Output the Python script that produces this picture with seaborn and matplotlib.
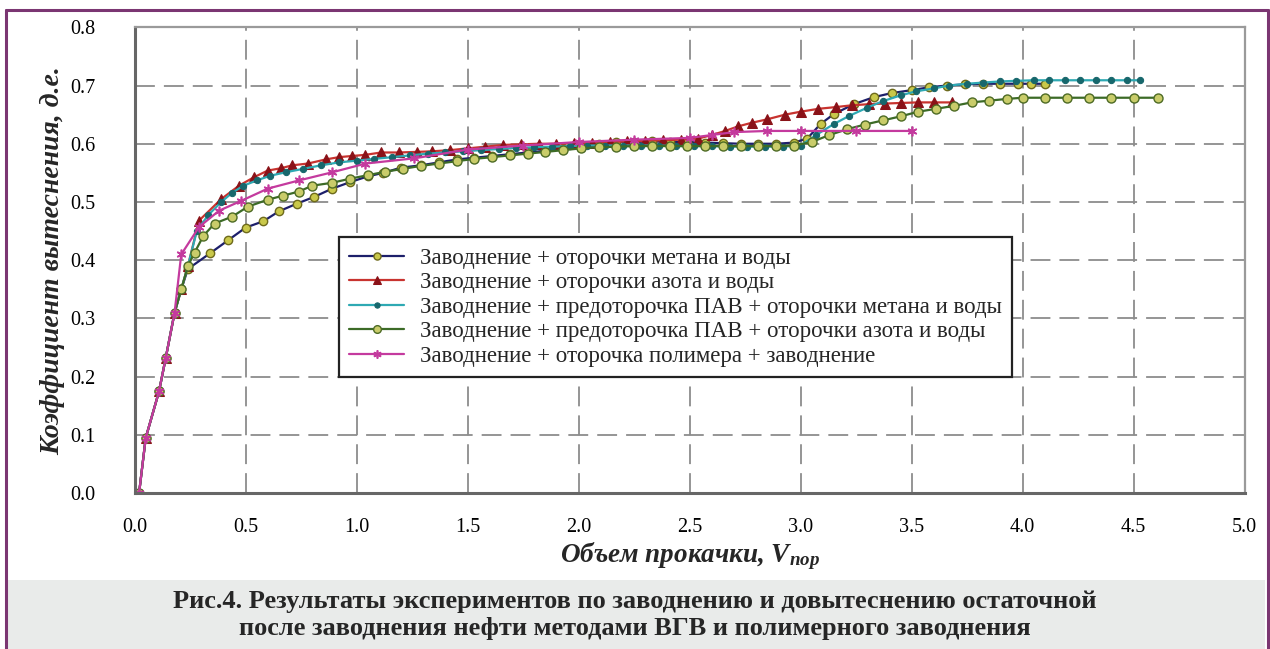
"""Коэффициент вытеснения в зависимости от объема прокачки (рис. 4)."""

import matplotlib.pyplot as plt
from matplotlib.lines import Line2D
from matplotlib.patches import Rectangle
import seaborn as sns

# Заводнение + оторочки метана и воды
METHANE_X = [0.02, 0.05, 0.11, 0.14, 0.18, 0.21, 0.24, 0.34, 0.42, 0.50, 0.58, 0.65, 0.73, 0.81,
             0.89, 0.97, 1.05, 1.12, 1.20, 1.29, 1.37, 1.45, 1.53, 1.61, 1.69, 1.77, 1.85, 1.93,
             2.01, 2.09, 2.17, 2.25, 2.33, 2.41, 2.49, 2.57, 2.65, 2.73, 2.81, 2.89, 2.97, 3.03,
             3.09, 3.15, 3.24, 3.33, 3.41, 3.50, 3.58, 3.66, 3.74, 3.82, 3.90, 3.98, 4.04, 4.10]
METHANE_Y = [0.0, 0.095, 0.175, 0.232, 0.31, 0.35, 0.385, 0.412, 0.434, 0.456, 0.467, 0.484, 0.497,
             0.509, 0.523, 0.534, 0.544, 0.55, 0.559, 0.563, 0.568, 0.573, 0.576, 0.579, 0.582,
             0.585, 0.588, 0.592, 0.596, 0.60, 0.603, 0.603, 0.604, 0.603, 0.603, 0.602, 0.601,
             0.60, 0.60, 0.60, 0.602, 0.609, 0.634, 0.651, 0.668, 0.68, 0.687, 0.692, 0.697, 0.70,
             0.702, 0.703, 0.703, 0.703, 0.703, 0.703]

# Заводнение + оторочки азота и воды
NITROGEN_X = [0.02, 0.05, 0.11, 0.14, 0.18, 0.21, 0.24, 0.29, 0.39, 0.47, 0.54, 0.60, 0.66, 0.71,
              0.78, 0.86, 0.92, 0.98, 1.04, 1.11, 1.19, 1.27, 1.34, 1.42, 1.50, 1.58, 1.66, 1.74,
              1.82, 1.90, 1.98, 2.06, 2.14, 2.22, 2.30, 2.38, 2.46, 2.54, 2.60, 2.66, 2.72, 2.78,
              2.85, 2.93, 3.00, 3.08, 3.16, 3.23, 3.31, 3.38, 3.45, 3.53, 3.60, 3.68]
NITROGEN_Y = [0.0, 0.095, 0.175, 0.232, 0.31, 0.35, 0.39, 0.468, 0.505, 0.528, 0.543, 0.554, 0.558,
              0.563, 0.566, 0.573, 0.577, 0.579, 0.581, 0.585, 0.585, 0.586, 0.587, 0.589, 0.592,
              0.595, 0.598, 0.599, 0.60, 0.60, 0.601, 0.602, 0.603, 0.604, 0.605, 0.606, 0.607,
              0.609, 0.615, 0.622, 0.630, 0.636, 0.642, 0.650, 0.655, 0.660, 0.663, 0.666, 0.668,
              0.669, 0.670, 0.671, 0.671, 0.671]

# Заводнение + предоторочка ПАВ + оторочки метана и воды
SURF_METHANE_X = [0.02, 0.05, 0.11, 0.14, 0.18, 0.21, 0.24, 0.28, 0.33, 0.39, 0.44, 0.49, 0.55,
                  0.61, 0.68, 0.76, 0.84, 0.92, 1.00, 1.08, 1.16, 1.24, 1.32, 1.40, 1.48, 1.56,
                  1.64, 1.72, 1.80, 1.88, 1.96, 2.04, 2.12, 2.20, 2.28, 2.36, 2.44, 2.52, 2.60,
                  2.68, 2.76, 2.84, 2.92, 3.00, 3.07, 3.15, 3.22, 3.30, 3.37, 3.45, 3.52, 3.60,
                  3.67, 3.75, 3.82, 3.90, 3.97, 4.05, 4.12, 4.19, 4.26, 4.33, 4.40, 4.47, 4.53]
SURF_METHANE_Y = [0.0, 0.095, 0.175, 0.232, 0.31, 0.35, 0.39, 0.45, 0.477, 0.50, 0.516, 0.528,
                  0.537, 0.545, 0.551, 0.557, 0.563, 0.568, 0.571, 0.574, 0.577, 0.58, 0.583,
                  0.585, 0.587, 0.589, 0.591, 0.593, 0.594, 0.595, 0.596, 0.597, 0.597, 0.597,
                  0.597, 0.597, 0.596, 0.596, 0.596, 0.595, 0.595, 0.595, 0.595, 0.597, 0.615,
                  0.634, 0.648, 0.662, 0.673, 0.683, 0.69, 0.695, 0.70, 0.703, 0.705, 0.707,
                  0.708, 0.709, 0.709, 0.709, 0.709, 0.709, 0.709, 0.709, 0.709]

# Заводнение + предоторочка ПАВ + оторочки азота и воды
SURF_NITROGEN_X = [0.02, 0.05, 0.11, 0.14, 0.18, 0.21, 0.24, 0.27, 0.31, 0.36, 0.44, 0.51, 0.60,
                   0.67, 0.74, 0.80, 0.89, 0.97, 1.05, 1.13, 1.21, 1.29, 1.37, 1.45, 1.53, 1.61,
                   1.69, 1.77, 1.85, 1.93, 2.01, 2.09, 2.17, 2.25, 2.33, 2.41, 2.49, 2.57, 2.65,
                   2.73, 2.81, 2.89, 2.97, 3.05, 3.13, 3.21, 3.29, 3.37, 3.45, 3.53, 3.61, 3.69,
                   3.77, 3.85, 3.93, 4.00, 4.10, 4.20, 4.30, 4.40, 4.50, 4.61]
SURF_NITROGEN_Y = [0.0, 0.095, 0.175, 0.232, 0.31, 0.35, 0.39, 0.413, 0.442, 0.463, 0.475, 0.492,
                   0.504, 0.511, 0.518, 0.528, 0.533, 0.540, 0.546, 0.552, 0.557, 0.562, 0.566,
                   0.57, 0.574, 0.577, 0.58, 0.583, 0.586, 0.589, 0.592, 0.594, 0.595, 0.596,
                   0.596, 0.596, 0.596, 0.596, 0.596, 0.596, 0.596, 0.596, 0.597, 0.603, 0.615,
                   0.625, 0.633, 0.64, 0.647, 0.655, 0.66, 0.665, 0.671, 0.674, 0.677, 0.679,
                   0.679, 0.679, 0.679, 0.679, 0.679, 0.679]

# Заводнение + оторочка полимера + заводнение
POLYMER_X = [0.02, 0.05, 0.11, 0.14, 0.18, 0.21, 0.29, 0.38, 0.48, 0.60, 0.74, 0.89, 1.04, 1.26,
             1.50, 1.75, 2.00, 2.25, 2.50, 2.60, 2.70, 2.85, 3.00, 3.25, 3.50]
POLYMER_Y = [0.0, 0.095, 0.175, 0.232, 0.31, 0.41, 0.457, 0.485, 0.502, 0.523, 0.537, 0.551,
             0.566, 0.575, 0.59, 0.597, 0.603, 0.607, 0.61, 0.615, 0.62, 0.622, 0.622, 0.622,
             0.622]

LABELS = [
    "Заводнение + оторочки метана и воды",
    "Заводнение + оторочки азота и воды",
    "Заводнение + предоторочка ПАВ + оторочки метана и воды",
    "Заводнение + предоторочка ПАВ + оторочки азота и воды",
    "Заводнение + оторочка полимера + заводнение",
]
CAPTION = ("Рис.4. Результаты экспериментов по заводнению и довытеснению остаточной\n"
           "после заводнения нефти методами ВГВ и полимерного заводнения")

sns.set_theme(style="whitegrid")
plt.rcParams["font.family"] = ["Liberation Serif", "DejaVu Serif"]
plt.rcParams["mathtext.fontset"] = "custom"
plt.rcParams["mathtext.it"] = "Liberation Serif:italic:bold"
plt.rcParams["mathtext.rm"] = "Liberation Serif:italic:bold"

fig = plt.figure(figsize=(12.7, 6.49), dpi=100, facecolor="white")
ax = fig.add_axes([0.106, 0.240, 0.874, 0.718])

styles = [
    dict(color="#1d1f6a", marker="o", markersize=6, markerfacecolor="#c9c84a",
         markeredgecolor="#6e6a1c", markeredgewidth=1),
    dict(color="#c8332f", marker="^", markersize=7.5, markerfacecolor="#8a1218",
         markeredgecolor="#8a1218"),
    dict(color="#2ea9b3", marker="o", markersize=4.5, markerfacecolor="#17676c",
         markeredgecolor="#17676c"),
    dict(color="#3c6b27", marker="o", markersize=6.5, markerfacecolor="#c9cc6a",
         markeredgecolor="#4d6b25", markeredgewidth=1),
    dict(color="#c43a9e", marker=(6, 2, 0), markersize=7, markeredgecolor="#c43a9e",
         markeredgewidth=1.2),
]
series = [(METHANE_X, METHANE_Y), (NITROGEN_X, NITROGEN_Y), (SURF_METHANE_X, SURF_METHANE_Y),
          (SURF_NITROGEN_X, SURF_NITROGEN_Y), (POLYMER_X, POLYMER_Y)]
for (xs, ys), label, style in zip(series, LABELS, styles):
    sns.lineplot(x=xs, y=ys, ax=ax, label=label, sort=False, estimator=None,
                 linewidth=1.6, **style)

ax.set_xlim(0, 5.0)
ax.set_ylim(0, 0.8)
ax.set_xticks([i * 0.5 for i in range(11)])
ax.set_yticks([i * 0.1 for i in range(9)])
ax.set_xticklabels([f"{i * 0.5:.1f}" for i in range(11)])
ax.set_yticklabels([f"{i * 0.1:.1f}" for i in range(9)])
ax.tick_params(axis="both", labelsize=14.5, colors="#888888", labelcolor="black", length=6,
               width=1.2)
ax.tick_params(axis="y", pad=22)
ax.tick_params(axis="x", pad=12)
ax.grid(True, color="#8c8c8c", linewidth=1.3, linestyle=(0, (11, 5)))
ax.set_axisbelow(True)
for side in ("left", "bottom"):
    ax.spines[side].set_color("#666666")
    ax.spines[side].set_linewidth(2.2)
for side in ("top", "right"):
    ax.spines[side].set_color("#9a9a9a")
    ax.spines[side].set_linewidth(1.6)

ax.set_ylabel("Коэффициент вытеснения, д.е.", fontsize=20, fontweight="bold", style="italic",
              labelpad=4)
ax.set_xlabel(r"Объем прокачки, $V_{пор}$", fontsize=19.5, fontweight="bold", style="italic",
              labelpad=2)

leg = ax.legend(loc="upper left", bbox_to_anchor=(0.184, 0.549), fontsize=16.5, frameon=True,
                fancybox=False, framealpha=1, edgecolor="#222222", handlelength=2.4,
                labelspacing=0.15, borderpad=0.45, handletextpad=0.7, borderaxespad=0,
                markerscale=0.85)
leg.get_frame().set_linewidth(1.6)

# подпись рисунка на сером фоне и рамка страницы
fig.patches.append(Rectangle((8 / 1270, 0), 1257 / 1270, 69 / 649, transform=fig.transFigure,
                             facecolor="#e9ebea", edgecolor="none", zorder=0))
fig.text(0.5, 0.052, CAPTION, ha="center", va="center", fontsize=19, fontweight="bold",
         linespacing=1.22)
border = "#7b3672"
fig.lines.append(Line2D([6 / 1270, 1268 / 1270], [1 - 10 / 649, 1 - 10 / 649],
                        transform=fig.transFigure, color=border, linewidth=2.2))
fig.lines.append(Line2D([6 / 1270, 6 / 1270], [0, 1 - 10 / 649], transform=fig.transFigure,
                        color=border, linewidth=2.2))
fig.lines.append(Line2D([1268 / 1270, 1268 / 1270], [0, 1 - 10 / 649],
                        transform=fig.transFigure, color=border, linewidth=2.2))

fig.savefig("out.png", dpi=100, facecolor="white")
plt.close(fig)
